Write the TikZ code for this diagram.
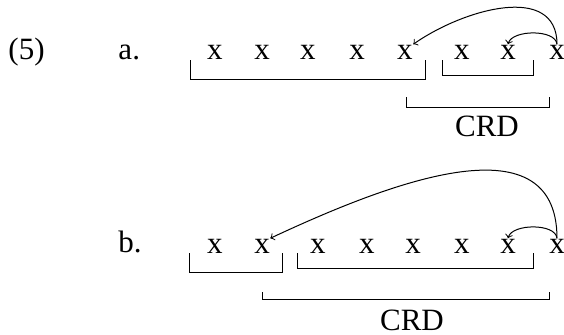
\documentclass[tikz,border=0pt]{standalone}
\usepackage{fontspec}
\setmainfont{Liberation Serif}
\usepackage{tikz}

\begin{document}
\begin{tikzpicture}[x=0.5pt,y=-0.5pt,line width=0.5pt,
  word/.style={inner sep=0pt,anchor=base,font=\fontsize{15.5}{18}\selectfont},
  lbl/.style={inner sep=0pt,anchor=base west,font=\fontsize{15.5}{18}\selectfont}]
\useasboundingbox (0,0) rectangle (564,334);

% (5a)
\node[lbl] (num) at (8,59) {(5)};
\node[lbl] (la) at (118,59) {a.};
\foreach \i/\px in {1/215,2/262,3/308,4/357,5/405,6/462,7/508,8/557}
  \node[word] (a\i) at (\px,59) {x};
\draw (190,60) |- (425,79) -- (425,60);
\draw (442,60) |- (533,75) -- (533,60);
\draw (406,97) |- (549,107) -- (549,97);
\node[word] (crda) at (487,136) {CRD};
\draw[->] (a8.north) to[out=90,in=35,looseness=1.1] (a5.north east);
\draw[->] (a8.north) to[out=95,in=75,looseness=0.8] (a7.north);

% (5b)
\node[lbl] (lb) at (118,252) {b.};
\foreach \i/\px in {1/215,2/262,3/318,4/367,5/413,6/462,7/508,8/557}
  \node[word] (b\i) at (\px,253) {x};
\draw (189,253) |- (282,272) -- (282,253);
\draw (297,253) |- (533,268) -- (533,253);
\draw (262,292) |- (549,299) -- (549,292);
\node[word] (crdb) at (412,330) {CRD};
\draw[->] (b8.north) to[out=90,in=25,looseness=1.1] (b2.north east);
\draw[->] (b8.north) to[out=95,in=75,looseness=0.8] (b7.north);

\end{tikzpicture}
\end{document}
